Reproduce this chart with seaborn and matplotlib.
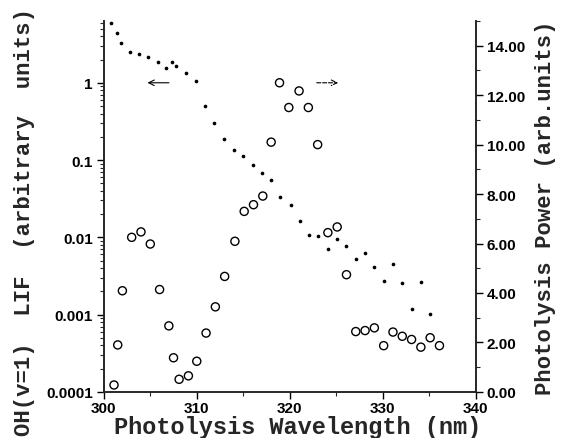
import numpy as np
import pandas as pd
import matplotlib
matplotlib.use("Agg")
import matplotlib.pyplot as plt
import matplotlib.ticker as mticker
import seaborn as sns

# OH(v=1) LIF signal, left log axis (small dots)
lif_wl = [300.75, 301.4, 301.8, 302.8, 303.8, 304.8, 305.8, 306.7, 307.3, 307.8,
          308.8, 309.9, 310.9, 311.9, 312.9, 314.0, 315.0, 316.0, 317.0, 318.0,
          319.0, 320.1, 321.1, 322.1, 323.0, 324.1, 325.1, 326.1, 327.1, 328.1,
          329.1, 330.1, 331.1, 332.1, 333.1, 334.1, 335.1]
lif_val = [5.9, 4.4, 3.3, 2.5, 2.35, 2.15, 1.83, 1.55, 1.88, 1.67,
           1.33, 1.06, 0.50, 0.30, 0.19, 0.134, 0.112, 0.0875, 0.067, 0.056,
           0.0335, 0.026, 0.0161, 0.0106, 0.0104, 0.0070, 0.0096, 0.0077, 0.0052, 0.0063,
           0.0041, 0.0027, 0.0045, 0.0026, 0.00118, 0.00265, 0.00101]

# photolysis power, right linear axis (open circles)
pow_wl = [301.1, 301.5, 302.0, 303.0, 304.0, 305.0, 306.0, 307.0, 307.5, 308.1,
          309.1, 310.0, 311.0, 312.0, 313.0, 314.1, 315.1, 316.1, 317.1, 318.0,
          318.9, 319.9, 321.0, 322.0, 323.0, 324.1, 325.1, 326.1, 327.1, 328.1,
          329.1, 330.1, 331.1, 332.1, 333.1, 334.1, 335.1, 336.1]
pow_val = [0.28, 1.90, 4.09, 6.25, 6.47, 5.98, 4.14, 2.67, 1.38, 0.51,
           0.65, 1.24, 2.38, 3.44, 4.67, 6.09, 7.30, 7.57, 7.92, 10.1,
           12.5, 11.5, 12.17, 11.5, 10.0, 6.44, 6.67, 4.74, 2.44, 2.48,
           2.59, 1.87, 2.42, 2.25, 2.12, 1.81, 2.19, 1.87]

log_ticks = [0.0001, 0.001, 0.01, 0.1, 1]
log_labels = ["0.0001", "0.001", "0.01", "0.1", "1"]

lif = pd.DataFrame({"wl": lif_wl, "val": lif_val})
pw = pd.DataFrame({"wl": pow_wl, "val": pow_val})

sns.set_style("ticks")
plt.rcParams["font.family"] = ["Liberation Sans", "DejaVu Sans"]
plt.rcParams["font.weight"] = "bold"

fig = plt.figure(figsize=(5.61, 4.39), dpi=100)
ax = fig.add_axes([0.185, 0.105, 0.663, 0.845])
ax2 = ax.twinx()

sns.scatterplot(data=lif, x="wl", y="val", ax=ax, color="black", s=7,
                linewidth=0, marker="o")
sns.scatterplot(data=pw, x="wl", y="val", ax=ax2, facecolors="none",
                edgecolor="black", s=34, linewidth=1.0, marker="o")

ax.set_yscale("log")
ax.set_xlim(300, 340)
ax.set_ylim(1e-4, 10 ** 0.8)
ax2.set_ylim(0, 15)

ax.set_yticks(log_ticks)
ax.set_yticklabels(log_labels)
ax.yaxis.set_minor_locator(mticker.LogLocator(base=10, subs=np.arange(2, 10)))
ax.yaxis.set_minor_formatter(mticker.NullFormatter())
ax.set_xticks([300, 310, 320, 330, 340])
ax.xaxis.set_minor_locator(mticker.MultipleLocator(5))
ax2.set_yticks([0, 2, 4, 6, 8, 10, 12, 14])
ax2.yaxis.set_minor_locator(mticker.MultipleLocator(1))
ax2.yaxis.set_major_formatter(mticker.FormatStrFormatter("%.2f"))

for a in (ax, ax2):
    a.spines["top"].set_visible(False)
    for s in a.spines.values():
        s.set_linewidth(1.2)
    a.tick_params(which="major", length=5, width=1.0, labelsize=11, pad=3,
                  color="black", labelcolor="black")
    a.tick_params(which="minor", length=3, width=0.8)
ax.tick_params(axis="x", which="major", pad=1.5)

mono = {"family": ["Liberation Mono", "DejaVu Sans Mono"], "weight": "bold"}
ax.set_xlabel("Photolysis Wavelength (nm)", fontdict=mono, fontsize=17)
ax.set_ylabel("OH(v=1)  LIF  (arbitrary  units)", fontdict=mono, fontsize=16)
ax2.set_ylabel("Photolysis Power (arb.units)", fontdict=mono, fontsize=16)
ax.xaxis.set_label_coords(0.52, -0.063)
ax.yaxis.set_label_coords(-0.185, 0.46)
ax2.yaxis.set_label_coords(1.16, 0.50)

ax.annotate("", xy=(304.4, 1.0), xytext=(307.3, 1.0),
            arrowprops=dict(arrowstyle="->", lw=0.8, color="black"))
ax.annotate("", xy=(325.5, 1.0), xytext=(322.6, 1.0),
            arrowprops=dict(arrowstyle="->", lw=0.8, color="black", linestyle="--"))

fig.savefig("out.png", dpi=100)
